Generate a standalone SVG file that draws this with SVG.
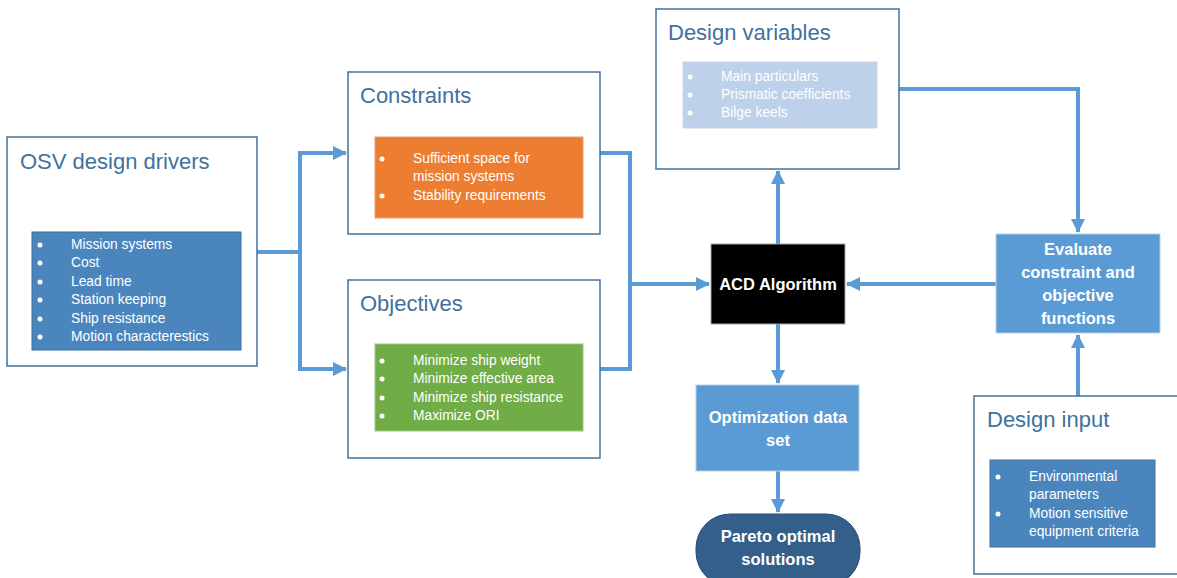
<svg xmlns="http://www.w3.org/2000/svg" width="1177" height="578" viewBox="0 0 1177 578">
  <defs>
    <marker id="arrow" markerUnits="userSpaceOnUse" markerWidth="14" markerHeight="14" viewBox="0 0 14 14" refX="13" refY="7" orient="auto">
      <path d="M0,0 L14,7 L0,14 Z" fill="#5b9bd5"/>
    </marker>
    <style>
      .frame { fill: #ffffff; stroke: #41719c; stroke-width: 1.5; }
      .title { font-family: "Liberation Sans", Arial, sans-serif; font-size: 22px; fill: #41719c; }
      .list { font-family: "Liberation Sans", Arial, sans-serif; font-size: 13.8px; fill: #ffffff; }
      .bold { font-family: "Liberation Sans", Arial, sans-serif; font-size: 16.5px; font-weight: bold; fill: #ffffff; text-anchor: middle; }
      .link { fill: none; stroke: #5b9bd5; stroke-width: 4; stroke-linejoin: miter; }
      .dot { fill: #ffffff; }
    </style>
  </defs>

  <!-- connectors -->
  <g id="connectors">
    <path class="link" d="M257,252 H300"/>
    <path class="link" d="M300,368 V153 H346" marker-end="url(#arrow)"/>
    <path class="link" d="M300,252 V369 H346" marker-end="url(#arrow)"/>
    <path class="link" d="M600,153 H630 V369 H600"/>
    <path class="link" d="M630,284 H709" marker-end="url(#arrow)"/>
    <path class="link" d="M996,284 H847" marker-end="url(#arrow)"/>
    <path class="link" d="M778,244 V171" marker-end="url(#arrow)"/>
    <path class="link" d="M899,89 H1078 V232" marker-end="url(#arrow)"/>
    <path class="link" d="M1078,396 V335" marker-end="url(#arrow)"/>
    <path class="link" d="M778,324 V383" marker-end="url(#arrow)"/>
    <path class="link" d="M778,471 V512" marker-end="url(#arrow)"/>
  </g>

  <!-- OSV design drivers -->
  <g id="osv-drivers">
    <rect class="frame" x="7" y="137" width="250" height="229"/>
    <text class="title" x="20" y="169">OSV design drivers</text>
    <rect x="32" y="232" width="209" height="118" fill="#4a86bd" stroke="#3a6e9e" stroke-width="1"/>
    <g class="list">
      <circle class="dot" cx="40" cy="245" r="2.5"/><text x="71" y="249">Mission systems</text>
      <circle class="dot" cx="40" cy="263" r="2.5"/><text x="71" y="267">Cost</text>
      <circle class="dot" cx="40" cy="282" r="2.5"/><text x="71" y="286">Lead time</text>
      <circle class="dot" cx="40" cy="300" r="2.5"/><text x="71" y="304">Station keeping</text>
      <circle class="dot" cx="40" cy="319" r="2.5"/><text x="71" y="323">Ship resistance</text>
      <circle class="dot" cx="40" cy="337" r="2.5"/><text x="71" y="341">Motion characterestics</text>
    </g>
  </g>

  <!-- Constraints -->
  <g id="constraints">
    <rect class="frame" x="348" y="72" width="252" height="162"/>
    <text class="title" x="360" y="103">Constraints</text>
    <rect x="375" y="137" width="208" height="81" fill="#ed7d31" stroke="#e8a070" stroke-width="1"/>
    <g class="list">
      <circle class="dot" cx="382" cy="159" r="2.5"/><text x="413" y="163">Sufficient space for</text>
      <text x="413" y="181">mission systems</text>
      <circle class="dot" cx="382" cy="196" r="2.5"/><text x="413" y="200">Stability requirements</text>
    </g>
  </g>

  <!-- Objectives -->
  <g id="objectives">
    <rect class="frame" x="348" y="280" width="252" height="178"/>
    <text class="title" x="360" y="311">Objectives</text>
    <rect x="375" y="344" width="208" height="87" fill="#70ad47" stroke="#9cc880" stroke-width="1"/>
    <g class="list">
      <circle class="dot" cx="382" cy="361" r="2.5"/><text x="413" y="365">Minimize ship weight</text>
      <circle class="dot" cx="382" cy="379" r="2.5"/><text x="413" y="383">Minimize effective area</text>
      <circle class="dot" cx="382" cy="398" r="2.5"/><text x="413" y="402">Minimize ship resistance</text>
      <circle class="dot" cx="382" cy="416" r="2.5"/><text x="413" y="420">Maximize ORI</text>
    </g>
  </g>

  <!-- Design variables -->
  <g id="design-variables">
    <rect class="frame" x="656" y="9" width="243" height="160"/>
    <text class="title" x="668" y="40">Design variables</text>
    <rect x="683" y="62" width="194" height="66" fill="#bdd1ea" stroke="#d0d8e2" stroke-width="1"/>
    <g class="list" fill="#f2f5fa">
      <circle class="dot" cx="690" cy="77" r="2.5"/><text x="721" y="81">Main particulars</text>
      <circle class="dot" cx="690" cy="95" r="2.5"/><text x="721" y="99">Prismatic coefficients</text>
      <circle class="dot" cx="690" cy="113" r="2.5"/><text x="721" y="117">Bilge keels</text>
    </g>
  </g>

  <!-- ACD Algorithm -->
  <g id="acd-algorithm">
    <rect x="711" y="244" width="134" height="80" fill="#000000" stroke="#a6a6a6" stroke-width="1"/>
    <text class="bold" x="778" y="290">ACD Algorithm</text>
  </g>

  <!-- Evaluate constraint and objective functions -->
  <g id="evaluate">
    <rect x="996" y="234" width="164" height="99" fill="#5b9bd5" stroke="#b8d0ea" stroke-width="1"/>
    <text class="bold" x="1078" y="255">Evaluate</text>
    <text class="bold" x="1078" y="278">constraint and</text>
    <text class="bold" x="1078" y="301">objective</text>
    <text class="bold" x="1078" y="324">functions</text>
  </g>

  <!-- Design input -->
  <g id="design-input">
    <rect class="frame" x="974" y="396" width="215" height="178"/>
    <text class="title" x="987" y="427">Design input</text>
    <rect x="990" y="460" width="165" height="87" fill="#4a86bd" stroke="#3a6e9e" stroke-width="1"/>
    <g class="list">
      <circle class="dot" cx="998" cy="477" r="2.5"/><text x="1029" y="481">Environmental</text>
      <text x="1029" y="499">parameters</text>
      <circle class="dot" cx="998" cy="514" r="2.5"/><text x="1029" y="518">Motion sensitive</text>
      <text x="1029" y="536">equipment criteria</text>
    </g>
  </g>

  <!-- Optimization data set -->
  <g id="optimization-data">
    <rect x="696" y="385" width="163" height="86" fill="#5b9bd5" stroke="#b8d0ea" stroke-width="1"/>
    <text class="bold" x="778" y="423">Optimization data</text>
    <text class="bold" x="778" y="446">set</text>
  </g>

  <!-- Pareto optimal solutions -->
  <g id="pareto">
    <rect x="696" y="514" width="164" height="72" rx="34" ry="34" fill="#335f8a" stroke="#2a4f74" stroke-width="1"/>
    <text class="bold" x="778" y="542">Pareto optimal</text>
    <text class="bold" x="778" y="565">solutions</text>
  </g>
</svg>
